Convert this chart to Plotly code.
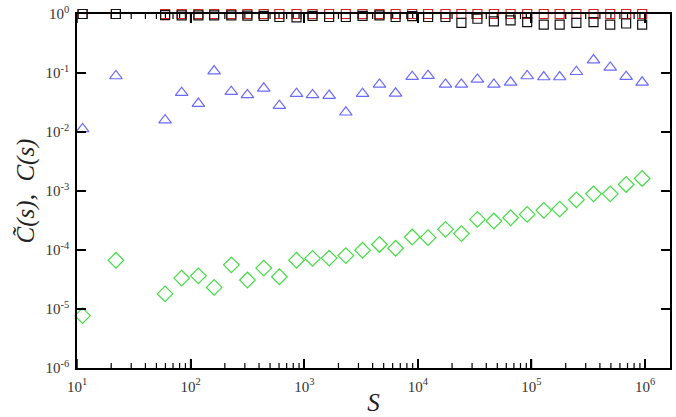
import math
import plotly.graph_objects as go

# sampling sizes s (log-spaced)
s = [11.2, 22.0, 59.6, 83.4, 117, 161, 228, 316, 440, 604, 855, 1183, 1656,
     2323, 3258, 4592, 6368, 8913, 12303, 17498, 24155, 33420, 46666, 65464,
     91622, 128233, 177011, 248313, 351560, 493174, 680769, 941889]

# series values
c_red = [1.0] * 32
c_black = [1.0, 1.0, 0.96, 0.95, 0.95, 0.95, 0.95, 0.94, 0.93, 0.89, 0.88,
           0.93, 0.89, 0.89, 0.93, 0.95, 0.89, 0.92, 0.89, 0.89, 0.71, 0.83,
           0.75, 0.78, 0.73, 0.66, 0.66, 0.71, 0.73, 0.66, 0.69, 0.66]
c_blue = [0.0113, 0.089, 0.0159, 0.0465, 0.0303, 0.108, 0.0483, 0.0425,
          0.055, 0.028, 0.0447, 0.0425, 0.0414, 0.0216, 0.0447, 0.064,
          0.0453, 0.0865, 0.090, 0.0642, 0.0642, 0.078, 0.064, 0.0695,
          0.089, 0.0855, 0.0855, 0.105, 0.1655, 0.1244, 0.0865, 0.0695]
c_green = [7.7e-6, 6.7e-5, 1.8e-5, 3.34e-5, 3.65e-5, 2.32e-5, 5.6e-5, 3.1e-5,
           4.93e-5, 3.52e-5, 6.7e-5, 7.2e-5, 7.3e-5, 8.05e-5, 9.9e-5, 1.24e-4,
           1.07e-4, 1.66e-4, 1.62e-4, 2.24e-4, 1.9e-4, 3.3e-4, 3.1e-4, 3.52e-4,
           4.01e-4, 4.7e-4, 4.94e-4, 7.1e-4, 8.95e-4, 8.95e-4, 1.29e-3, 1.63e-3]

# decade tick labels
x_exps = [1, 2, 3, 4, 5, 6]
y_exps = [0, -1, -2, -3, -4, -5, -6]

X_RANGE = [1, 6.219]
Y_RANGE = [-6, 0]

W, H = 676, 417
M = dict(l=77, r=4, t=12, b=49)
PLOT_W = W - M["l"] - M["r"]
PLOT_H = H - M["t"] - M["b"]
PX_PER_DEC_Y = PLOT_H / (Y_RANGE[1] - Y_RANGE[0])

serif = "Liberation Serif, Times New Roman, serif"

fig = go.Figure()

x_major = [10.0 ** e for e in x_exps]
y_major = [10.0 ** e for e in y_exps]
x_minor = [k * 10.0 ** e for e in range(1, 7) for k in range(2, 10)
           if k * 10.0 ** e <= 10 ** X_RANGE[1]]
y_minor = [k * 10.0 ** e for e in range(-6, 0) for k in range(2, 10)]

# x-axis frame ticks (bottom and top) as short line segments
for vals, length, width in ((x_major, 9, 1.5), (x_minor, 5, 1.2)):
    d = length / PX_PER_DEC_Y
    xs, ys = [], []
    for v in vals:
        xs += [v, v, None, v, v, None]
        ys += [10 ** Y_RANGE[0], 10 ** (Y_RANGE[0] + d), None,
               10 ** Y_RANGE[1], 10 ** (Y_RANGE[1] - d), None]
    fig.add_trace(go.Scatter(x=xs, y=ys, mode="lines", showlegend=False,
                             hoverinfo="skip", cliponaxis=False,
                             line=dict(color="black", width=width)))


def add_series(vals, symbol, color, size):
    fig.add_trace(go.Scatter(
        x=s, y=vals, mode="markers", cliponaxis=False, showlegend=False,
        marker=dict(symbol=symbol, size=size, color=color,
                    line=dict(color=color, width=1.2)),
    ))


add_series(c_red, "square-open", "#d42020", 9)
add_series(c_black, "square-open", "#111111", 9)
add_series(c_blue, "triangle-up-open", "#6a6aff", 11)
add_series(c_green, "diamond-open", "#44dd44", 12)

# y-axis frame ticks (left and right) as thin filled bars
shapes = []
for vals, length, width, out in ((y_major, 9, 1.5, 4), (y_minor, 5, 1.2, 0)):
    for v in vals:
        p = math.log10(v)
        for x0, x1 in ((-out / PLOT_W, length / PLOT_W),
                       (1 - length / PLOT_W, 1.0)):
            shapes.append(dict(
                type="rect", xref="paper", yref="y", ysizemode="pixel",
                yanchor=p, y0=-width / 2, y1=width / 2, x0=x0, x1=x1,
                fillcolor="black", line=dict(width=0), layer="above"))

axis_common = dict(
    showline=True, linecolor="black", linewidth=1.5, mirror="allticks",
    ticks="inside", ticklen=9, tickwidth=1.5, tickcolor="black",
    showgrid=False, zeroline=False,
    tickfont=dict(family=serif, size=15, color="#333333"),
)

fig.update_layout(
    width=W, height=H, margin=M,
    paper_bgcolor="white", plot_bgcolor="white",
    shapes=shapes,
    xaxis=dict(
        type="log", range=X_RANGE, tickmode="array",
        tickvals=x_major,
        ticktext=[f"10<sup>{e}</sup>" for e in x_exps],
        ticklabelstandoff=4,
        title=dict(text="<i>S</i>",
                   font=dict(family=serif, size=25, color="#222"), standoff=0),
        **axis_common,
    ),
    yaxis=dict(
        type="log", range=Y_RANGE, tickmode="array",
        tickvals=y_major,
        ticktext=[f"10<sup>{e}</sup>" for e in y_exps],
        ticklabelstandoff=3,
        title=dict(text="<i>C\u0303(s),  C(s)</i>",
                   font=dict(family=serif, size=25, color="#222"), standoff=4),
        **axis_common,
    ),
)

fig.write_html("out.html")
